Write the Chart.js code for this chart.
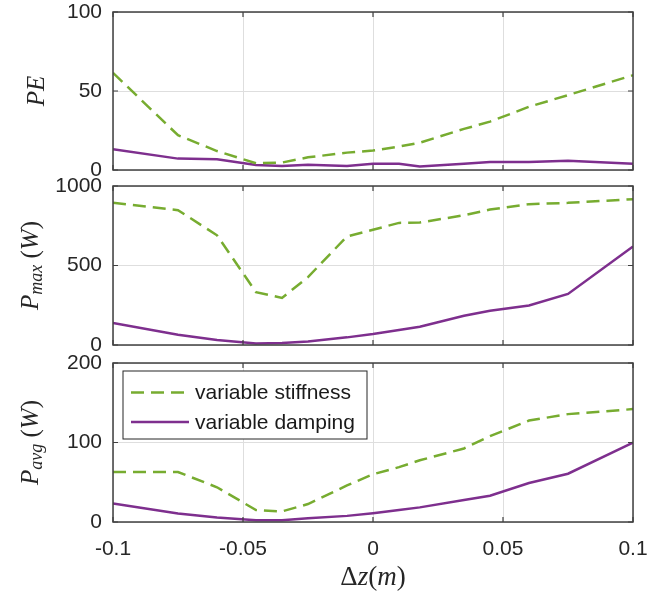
<!DOCTYPE html>
<html>
<head>
<meta charset="utf-8">
<script src="https://cdn.jsdelivr.net/npm/chart.js@4"></script>
<style>
    body { margin: 0; background: #ffffff; }
    #wrap { position: relative; width: 670px; height: 592px; overflow: hidden; }
    .panel { position: absolute; left: 0; }
</style>
</head>
<body>
<div id="wrap">
    <div class="panel" style="top:0px"><canvas id="pe-canvas" width="670" height="185"></canvas></div>
    <div class="panel" style="top:170px"><canvas id="pmax-canvas" width="670" height="190"></canvas></div>
    <div class="panel" style="top:350px"><canvas id="pavg-canvas" width="670" height="242"></canvas></div>
</div>
<script>
// delta z (m)
var xVals = [-0.1, -0.075, -0.06, -0.045, -0.035, -0.025, -0.01, 0, 0.01, 0.018, 0.035, 0.045, 0.06, 0.075, 0.1];
var xTickLabels = ['-0.1', '-0.05', '0', '0.05', '0.1'];

var peStiffness = [61.5, 22, 12, 4.3, 4.7, 8, 11, 12.3, 14.8, 17.3, 26, 30.6, 40, 47.4, 60];
var peDamping = [13.1, 7.2, 6.8, 3.2, 2.6, 3.4, 2.6, 3.9, 3.9, 2.2, 4, 5.1, 5.1, 5.8, 3.9];

var pmaxStiffness = [894, 848, 690, 332, 296, 427, 683, 725, 768, 770, 816, 852, 886, 894, 917];
var pmaxDamping = [138, 65, 31, 10, 12, 22, 48, 69, 94, 115, 184, 216, 248, 321, 620];

var pavgStiffness = [62.9, 62.9, 43.7, 15, 13.3, 22.6, 46, 60, 69, 77.6, 92.5, 108, 127.6, 135.7, 142];
var pavgDamping = [23.4, 10.7, 5.6, 2.3, 2.3, 4.7, 7.7, 11, 15, 18.4, 27.6, 33, 49, 60.7, 99.7];

var seriesNames = ['variable stiffness', 'variable damping'];

const GREEN = '#77ac30';
const PURPLE = '#7e2f8e';
const AXIS_COLOR = '#262626';
const TICK_FONT = { family: 'Liberation Sans', size: 21 };

function toPoints(values) {
    return xVals.map((x, i) => ({ x: x, y: values[i] }));
}

// box round the axes and the small inward ticks
const boxPlugin = {
    id: 'box',
    afterDraw(chart) {
        let ctx = chart.ctx;
        let a = chart.chartArea;
        let xs = chart.scales.x, ys = chart.scales.y;
        ctx.save();
        ctx.strokeStyle = '#404040';
        ctx.lineWidth = 1.5;
        ctx.strokeRect(a.left, a.top, a.right - a.left, a.bottom - a.top);
        ctx.lineWidth = 1.2;
        ctx.beginPath();
        xs.ticks.forEach(t => {
            let px = xs.getPixelForValue(t.value);
            ctx.moveTo(px, a.bottom); ctx.lineTo(px, a.bottom - 5);
            ctx.moveTo(px, a.top); ctx.lineTo(px, a.top + 5);
        });
        ys.ticks.forEach(t => {
            let py = ys.getPixelForValue(t.value);
            ctx.moveTo(a.left, py); ctx.lineTo(a.left + 5, py);
            ctx.moveTo(a.right, py); ctx.lineTo(a.right - 5, py);
        });
        ctx.stroke();
        ctx.restore();
    }
};

function drawParts(ctx, parts) {
    let total = 0;
    parts.forEach(p => { ctx.font = p.font; total += ctx.measureText(p.t).width; });
    let pos = -total / 2;
    parts.forEach(p => {
        ctx.font = p.font;
        ctx.fillText(p.t, pos, p.dy || 0);
        pos += ctx.measureText(p.t).width;
    });
}

// y label with subscript, rotated like the original
const yTitlePlugin = {
    id: 'yTitle',
    afterDraw(chart, args, opts) {
        if (!opts.parts) return;
        let ctx = chart.ctx;
        let a = chart.chartArea;
        ctx.save();
        ctx.fillStyle = AXIS_COLOR;
        ctx.textBaseline = 'middle';
        ctx.translate(opts.x, (a.top + a.bottom) / 2);
        ctx.rotate(-Math.PI / 2);
        drawParts(ctx, opts.parts);
        ctx.restore();
    }
};

const xTitlePlugin = {
    id: 'xTitle',
    afterDraw(chart, args, opts) {
        if (!opts.parts) return;
        let ctx = chart.ctx;
        let a = chart.chartArea;
        ctx.save();
        ctx.fillStyle = AXIS_COLOR;
        ctx.textBaseline = 'middle';
        ctx.translate((a.left + a.right) / 2, opts.y);
        drawParts(ctx, opts.parts);
        ctx.restore();
    }
};

const boxLegendPlugin = {
    id: 'boxLegend',
    afterDraw(chart, args, opts) {
        if (!opts.show) return;
        let ctx = chart.ctx;
        let a = chart.chartArea;
        let bx = a.left + 10, by = a.top + 8;
        ctx.save();
        ctx.fillStyle = '#ffffff';
        ctx.fillRect(bx, by, 244, 68);
        ctx.strokeStyle = AXIS_COLOR;
        ctx.lineWidth = 1;
        ctx.strokeRect(bx, by, 244, 68);
        ctx.font = '21px Liberation Sans';
        ctx.textBaseline = 'middle';
        chart.data.datasets.forEach((ds, i) => {
            let ry = by + 21.5 + i * 29.5;
            ctx.strokeStyle = ds.borderColor;
            ctx.lineWidth = ds.borderWidth;
            ctx.setLineDash(ds.borderDash || []);
            ctx.beginPath();
            ctx.moveTo(bx + 8, ry);
            ctx.lineTo(bx + 66, ry);
            ctx.stroke();
            ctx.setLineDash([]);
            ctx.fillStyle = '#1a1a1a';
            ctx.fillText(ds.label, bx + 72, ry + 1);
        });
        ctx.restore();
    }
};

function makePanel(canvasId, stiff, damp, yMax, yStep, padTop, padBottom, showX, yParts, extra) {
    let config = {
        type: 'line',
        data: {
            datasets: [
                {
                    label: seriesNames[0],
                    data: toPoints(stiff),
                    borderColor: GREEN,
                    borderWidth: 2.5,
                    borderDash: [13, 7],
                    pointRadius: 0,
                    tension: 0,
                    fill: false
                },
                {
                    label: seriesNames[1],
                    data: toPoints(damp),
                    borderColor: PURPLE,
                    borderWidth: 2.5,
                    pointRadius: 0,
                    tension: 0,
                    fill: false
                }
            ]
        },
        options: {
            responsive: false,
            animation: false,
            layout: { padding: { top: padTop, bottom: padBottom, left: 0, right: 37 } },
            scales: {
                x: {
                    type: 'linear',
                    min: -0.1,
                    max: 0.1,
                    border: { display: false },
                    grid: { color: '#dedede', lineWidth: 1, drawTicks: false },
                    ticks: {
                        display: showX,
                        stepSize: 0.05,
                        padding: 15,
                        color: AXIS_COLOR,
                        font: TICK_FONT,
                        maxRotation: 0,
                        callback: function (v, i) { return xTickLabels[i]; }
                    },
                    afterFit: function (scale) {
                        scale.height = showX ? 70 : 0;
                        scale.paddingLeft = 0;
                        scale.paddingRight = 0;
                    }
                },
                y: {
                    min: 0,
                    max: yMax,
                    border: { display: false },
                    grid: { color: '#dedede', lineWidth: 1, drawTicks: false },
                    ticks: {
                        stepSize: yStep,
                        padding: 11,
                        color: AXIS_COLOR,
                        font: TICK_FONT,
                        callback: function (v) { return String(v); }
                    },
                    afterFit: function (scale) {
                        scale.width = 113;
                        scale.paddingTop = 0;
                        scale.paddingBottom = 0;
                    }
                }
            },
            plugins: {
                legend: { display: false },
                tooltip: { enabled: false },
                yTitle: { x: extra.titleX || 31, parts: yParts },
                xTitle: extra.xTitle || {},
                boxLegend: { show: !!extra.legend }
            }
        },
        plugins: [boxPlugin, yTitlePlugin, xTitlePlugin, boxLegendPlugin]
    };
    return new Chart(document.getElementById(canvasId), config);
}

const IT = 'italic 25px Liberation Serif';
const UP = '25px Liberation Serif';
const SUB = 'italic 18px Liberation Serif';
const XT = 'italic 27px Liberation Serif';
const XU = '27px Liberation Serif';

var peChart = makePanel('pe-canvas', peStiffness, peDamping, 100, 50, 12, 15, false,
    [{ t: 'PE', font: IT }], { titleX: 37 });

var pmaxChart = makePanel('pmax-canvas', pmaxStiffness, pmaxDamping, 1000, 500, 16, 15, false,
    [{ t: 'P', font: IT }, { t: 'max', font: SUB, dy: 6 }, { t: ' (', font: UP }, { t: 'W', font: IT }, { t: ')', font: UP }], {});

var pavgChart = makePanel('pavg-canvas', pavgStiffness, pavgDamping, 200, 100, 13, 0, true,
    [{ t: 'P', font: IT }, { t: 'avg', font: SUB, dy: 6 }, { t: ' (', font: UP }, { t: 'W', font: IT }, { t: ')', font: UP }],
    {
        legend: true,
        xTitle: { y: 228, parts: [{ t: 'Δ', font: XU }, { t: 'z', font: XT }, { t: '(', font: XU }, { t: 'm', font: XT }, { t: ')', font: XU }] }
    });
</script>
</body>
</html>
